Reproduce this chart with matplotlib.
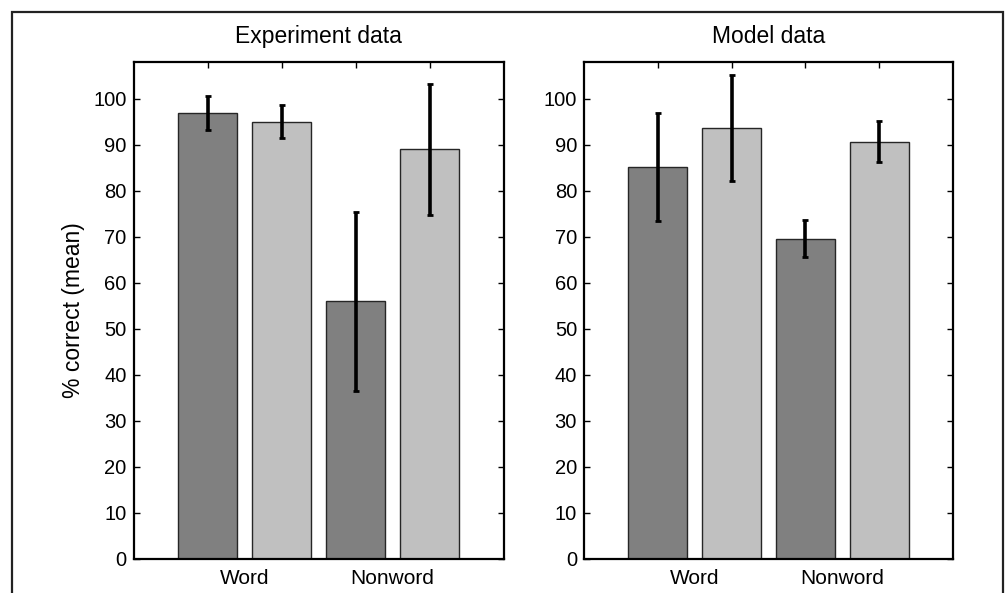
import matplotlib
matplotlib.use("Agg")
import matplotlib.pyplot as plt
from matplotlib.patches import Rectangle

plt.rcParams['font.family'] = ['Liberation Sans', 'DejaVu Sans']

groups = ["Word", "Nonword"]
exp_means = [97.0, 95.0, 56.0, 89.0]
exp_errs = [3.7, 3.6, 19.4, 14.2]
model_means = [85.2, 93.6, 69.6, 90.7]
model_errs = [11.8, 11.5, 4.0, 4.4]
bar_colors = ["#808080", "#c0c0c0", "#808080", "#c0c0c0"]
titles = ["Experiment data", "Model data"]
yticks = list(range(0, 101, 10))

W, H = 1005, 593
fig = plt.figure(figsize=(W/100, H/100), dpi=100)

def px(x0, y0, x1, y1):
    return [x0/W, 1 - y1/H, (x1-x0)/W, (y1-y0)/H]

ax1 = fig.add_axes(px(133.5, 62, 503.5, 559))
ax2 = fig.add_axes(px(584, 62, 953, 559))

for ax, means, errs, title in [(ax1, exp_means, exp_errs, titles[0]),
                               (ax2, model_means, model_errs, titles[1])]:
    pos = [1, 2, 3, 4]
    ax.bar(pos, means, width=0.8, color=bar_colors, edgecolor="#262626", linewidth=1.0, zorder=2)
    ax.errorbar(pos, means, yerr=errs, fmt='none', ecolor='black', elinewidth=2.6,
                capsize=2.0, capthick=2.0, zorder=3)
    ax.set_xlim(0, 5)
    ax.set_ylim(0, 108)
    ax.set_yticks(yticks)
    ax.set_xticks(pos)
    ax.set_xticklabels([])
    ax.set_xticks([1.5, 3.5], minor=True)
    ax.set_xticklabels(groups, minor=True)
    ax.tick_params(axis='x', which='minor', length=0, pad=7, labelsize=15)
    ax.tick_params(axis='both', which='major', direction='in', length=4, width=1.0,
                   top=True, right=True, labelsize=14.5, pad=5)
    for s in ax.spines.values():
        s.set_linewidth(1.6)
    ax.set_title(title, fontsize=16.5, pad=14)

ax1.set_ylabel("% correct (mean)", fontsize=16.5, labelpad=6)

fig.add_artist(Rectangle((12/W, -0.1), (1003-12)/W, 1.1 - 12/H, transform=fig.transFigure,
                         fill=False, edgecolor='#222222', linewidth=1.6))

fig.savefig("out.png", dpi=100)
